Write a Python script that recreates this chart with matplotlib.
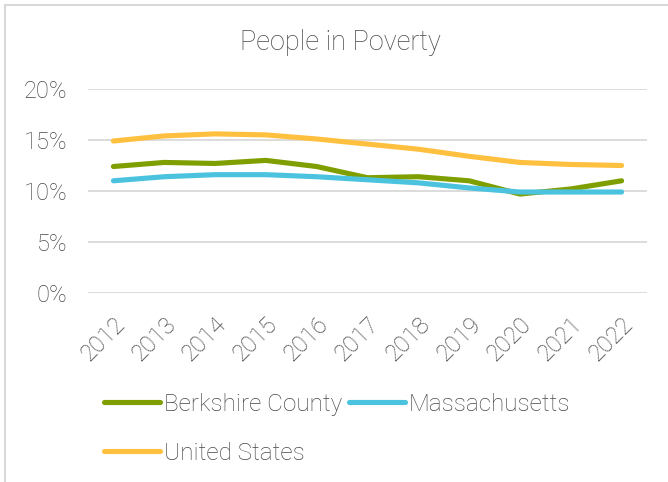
import matplotlib
matplotlib.use("Agg")
import matplotlib.pyplot as plt
from matplotlib.lines import Line2D

# data (percent)
years = ["2012", "2013", "2014", "2015", "2016", "2017",
         "2018", "2019", "2020", "2021", "2022"]
berkshire = [12.4, 12.8, 12.7, 13.0, 12.4, 11.3, 11.4, 11.0, 9.7, 10.2, 11.0]
massachusetts = [11.0, 11.4, 11.6, 11.6, 11.4, 11.1, 10.8, 10.3, 9.9, 9.9, 9.9]
united_states = [14.9, 15.4, 15.6, 15.5, 15.1, 14.6, 14.1, 13.4, 12.8, 12.6, 12.5]

plt.rcParams['font.family'] = ['Roboto', 'DejaVu Sans']
plt.rcParams['font.weight'] = 'light'
txt = '#474747'
grid = '#D9D9D9'

W, H = 668, 482
fig = plt.figure(figsize=(W / 100, H / 100), dpi=100)
ax = fig.add_axes([88 / W, 1 - 293 / H, (647 - 88) / W, (293 - 89) / H])

x = range(len(years))
lw = 3.7
l1, = ax.plot(x, berkshire, color='#7F9F00', lw=lw, solid_capstyle='round',
              solid_joinstyle='round', label='Berkshire County')
l2, = ax.plot(x, massachusetts, color='#4BC3DF', lw=lw, solid_capstyle='round',
              solid_joinstyle='round', label='Massachusetts')
l3, = ax.plot(x, united_states, color='#FFC040', lw=lw, solid_capstyle='round',
              solid_joinstyle='round', label='United States')

ax.set_xlim(-0.5, len(years) - 0.5)
ax.set_ylim(0, 20)
ax.set_yticks([0, 5, 10, 15, 20])
ax.set_yticklabels(['0%', '5%', '10%', '15%', '20%'])
ax.set_xticks(list(x))
ax.set_xticklabels(years, rotation=45, ha='right', rotation_mode='anchor')
ax.yaxis.grid(True, color=grid, lw=1.3)
ax.set_axisbelow(True)
for s in ax.spines.values():
    s.set_visible(False)
ax.tick_params(length=0, labelcolor=txt, labelsize=17)
ax.tick_params(axis='y', pad=15)
ax.tick_params(axis='x', pad=14)

fig.text(340 / W, 1 - 42 / H, 'People in Poverty', ha='center', va='center',
         color=txt, fontsize=19.5, fontweight='light')

leg = fig.legend([l1, l3, l2], ['Berkshire County', 'United States', 'Massachusetts'],
                 ncol=2, loc='upper left', bbox_to_anchor=(104 / W, 1 - 393 / H),
                 frameon=False, fontsize=17.5, handlelength=2.3, handletextpad=0.15,
                 columnspacing=0.3, labelspacing=1.05, borderpad=0, borderaxespad=0)
for t in leg.get_texts():
    t.set_color(txt)

# chart border (left and top edges visible)
fig.add_artist(Line2D([5 / W, 5 / W], [0, 1 - 5 / H], transform=fig.transFigure,
                      color=grid, lw=1.5))
fig.add_artist(Line2D([5 / W, 1], [1 - 5 / H, 1 - 5 / H], transform=fig.transFigure,
                      color=grid, lw=1.5))

fig.savefig('out.png', dpi=100)
